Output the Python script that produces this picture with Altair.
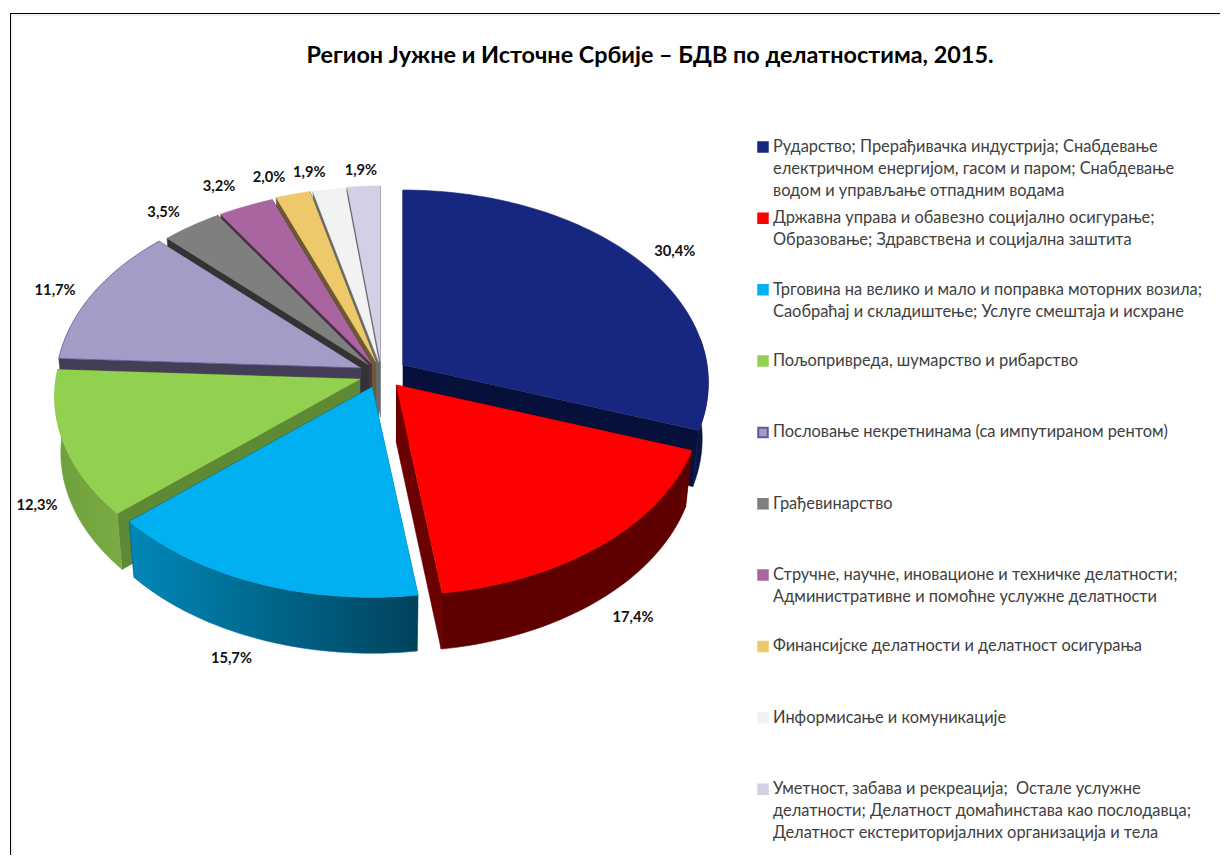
import math
import altair as alt

TITLE = "Регион Јужне и Источне Србије – БДВ по делатностима, 2015."
SHARES = [30.4, 17.4, 15.7, 12.3, 11.7, 3.5, 3.2, 2.0, 1.9, 1.9]
SHARE_LABELS = ["30,4%", "17,4%", "15,7%", "12,3%", "11,7%", "3,5%", "3,2%", "2,0%", "1,9%", "1,9%"]
LEGEND_LINES = [
    ["Рударство; Прерађивачка индустрија; Снабдевање", "електричном енергијом, гасом и паром; Снабдевање", "водом и управљање отпадним водама"],
    ["Државна управа и обавезно социјално осигурање;", "Образовање; Здравствена и социјална заштита"],
    ["Трговина на велико и мало и поправка моторних возила;", "Саобраћај и складиштење; Услуге смештаја и исхране"],
    ["Пољопривреда, шумарство и рибарство"],
    ["Пословање некретнинама (са импутираном рентом)"],
    ["Грађевинарство"],
    ["Стручне, научне, иновационе и техничке делатности;", "Административне и помоћне услужне делатности"],
    ["Финансијске делатности и делатност осигурања"],
    ["Информисање и комуникације"],
    ["Уметност, забава и рекреација;\u00a0 Остале услужне", "делатности; Делатност домаћинстава као послодавца;", "Делатност екстериторијалних организација и тела"],
]
TOP_COLORS = ["#17277f", "#ff0000", "#00b0f0", "#92d050", "#a59bc7", "#7f7f7f", "#a9659f", "#eec96b", "#f1f2f2", "#d3d0e6"]
WALL_COLORS = ["#06103a", "#6b0000", "#00506e", "#5f8a35", "#433d56", "#333333", "#4d2d4a", "#6b5a30", "#6b6b6e", "#6a6a72"]

# layout of the drawing
W, H = 1212, 847
APEX = [(403, 365), (396, 385), (372, 387), (360, 379), (361, 368), (369, 365), (372, 364), (376, 362), (379, 362), (380.5, 361)]
NUDGE = [(36, -9), (30, 73), (-25, 75), (-27, 61), (-38, -3), (-28, -14), (-27, -20), (-24, -17), (-20, -18), (-3, -16)]
RX, RY, PERSP, DEPTH, SHRINK = 304, 191, 0.0916, 56, 0.98
PAINT_ORDER = [9, 8, 7, 6, 5, 4, 3, 0, 1, 2]

X = alt.X("x:Q", scale=alt.Scale(domain=[8, 8 + W], range=[0, W], nice=False, zero=False), axis=None)
Y = alt.Y("y:Q", scale=alt.Scale(domain=[8 + H, 8], range=[H, 0], nice=False, zero=False), axis=None)


def rim(t):
    f = -math.cos(t)
    s = 1 / (1 - PERSP * f)
    return RX * math.sin(t) * s, RY * f * s


def poly(points, fill, stroke=None, width=0.6):
    rows = [{"x": p[0], "y": p[1], "i": k} for k, p in enumerate(points)]
    return alt.Chart(alt.Data(values=rows)).mark_line(
        fill=fill, stroke=stroke or (fill if isinstance(fill, str) else WALL_COLORS[0]),
        strokeWidth=width, strokeJoin="round"
    ).encode(x=X, y=Y, order=alt.Order("i:Q"))


cum = [0]
for v in SHARES:
    cum.append(cum[-1] + v)
total = cum[-1]
angle = [c / total * 2 * math.pi for c in cum]


def grad(c0, c1):
    return alt.LinearGradient(gradient="linear", x1=0, x2=1, y1=0, y2=0,
                              stops=[alt.GradientStop(color=c0, offset=0), alt.GradientStop(color=c1, offset=1)])


RIM_FILL = {0: "#0a1545", 1: "#5e0000", 2: grad("#0088b8", "#00435c"), 3: grad("#6f9f3a", "#7aab45")}
RIM_STROKE = {0: "#0a1545", 1: "#5e0000", 2: "#006a8f", 3: "#74a43f"}

layers = []
for k in PAINT_ORDER:
    ax, ay = APEX[k]
    a0, a1 = angle[k], angle[k + 1]
    n = max(4, int((a1 - a0) / math.radians(1.5)))
    ts = [a0 + (a1 - a0) * j / n for j in range(n + 1)]
    top = [(ax + rim(t)[0], ay + rim(t)[1]) for t in ts]
    low = [(ax + rim(t)[0] * SHRINK, ay + rim(t)[1] + DEPTH) for t in ts]
    apex_low = (ax, ay + DEPTH)
    # cut faces
    layers.append(poly([(ax, ay), top[0], low[0], apex_low], WALL_COLORS[k]))
    layers.append(poly([(ax, ay), top[-1], low[-1], apex_low], WALL_COLORS[k]))
    # outer wall, front part of the pie only
    if k in RIM_FILL:
        vis = [j for j, t in enumerate(ts) if -math.cos(t) > -0.15]
        layers.append(poly([top[j] for j in vis] + [low[j] for j in reversed(vis)], RIM_FILL[k], RIM_STROKE[k]))
    outline = "#5c5c96" if k == 4 else None
    layers.append(poly([(ax, ay)] + top, TOP_COLORS[k], outline, 0.8 if k == 4 else 0.6))

# percentage labels
lab = []
for k, txt in enumerate(SHARE_LABELS):
    dx, dy = rim((angle[k] + angle[k + 1]) / 2)
    lab.append({"x": APEX[k][0] + dx + NUDGE[k][0], "y": APEX[k][1] + dy + NUDGE[k][1] + 1, "t": txt})
layers.append(alt.Chart(alt.Data(values=lab)).mark_text(
    font="Lato", fontSize=14.7, fontWeight="bold", color="#111111", align="center", baseline="middle"
).encode(x=X, y=Y, text="t:N"))

# legend
LEG_Y0, LEG_PITCH, LEG_LINE = 147, 71.35, 22
sw, txt = [], []
for i, lines in enumerate(LEGEND_LINES):
    y0 = LEG_Y0 + LEG_PITCH * i
    sw.append({"x": 763, "y": y0, "c": TOP_COLORS[i], "s": "#5c5c96" if i == 4 else TOP_COLORS[i]})
    for j, line in enumerate(lines):
        txt.append({"x": 773, "y": y0 + LEG_LINE * j, "t": line})
layers.append(alt.Chart(alt.Data(values=sw)).mark_point(shape="square", size=90, filled=True, opacity=1).encode(
    x=X, y=Y, fill=alt.Fill("c:N", scale=None), stroke=alt.Stroke("s:N", scale=None)))
layers.append(alt.Chart(alt.Data(values=txt)).mark_text(
    font="Lato", fontSize=16.4, color="#404040", align="left", baseline="middle"
).encode(x=X, y=Y, text="t:N"))

# frame
frame = [
    {"x": 10, "x2": 8 + W, "y": 15, "y2": 15, "c": "#e0e6ea"},
    {"x": 12, "x2": 12, "y": 14, "y2": 8 + H, "c": "#e0e6ea"},
    {"x": 10, "x2": 8 + W, "y": 13.5, "y2": 13.5, "c": "#000000"},
    {"x": 10.5, "x2": 10.5, "y": 13, "y2": 8 + H, "c": "#000000"},
]
layers.append(alt.Chart(alt.Data(values=frame)).mark_rule(strokeWidth=1).encode(
    x=X, x2="x2:Q", y=Y, y2="y2:Q", color=alt.Color("c:N", scale=None)))

chart = alt.layer(*layers).properties(
    width=W, height=H,
    padding=0,
    autosize=alt.AutoSizeParams(type="none"),
    background="white",
    title=alt.TitleParams(TITLE, font="Lato", fontSize=23.4, fontWeight="bold", color="#000000",
                          anchor="middle", dx=36, dy=64),
).configure_view(stroke=None)

chart.save("out.html", embed_options={"renderer": "svg", "actions": False})
